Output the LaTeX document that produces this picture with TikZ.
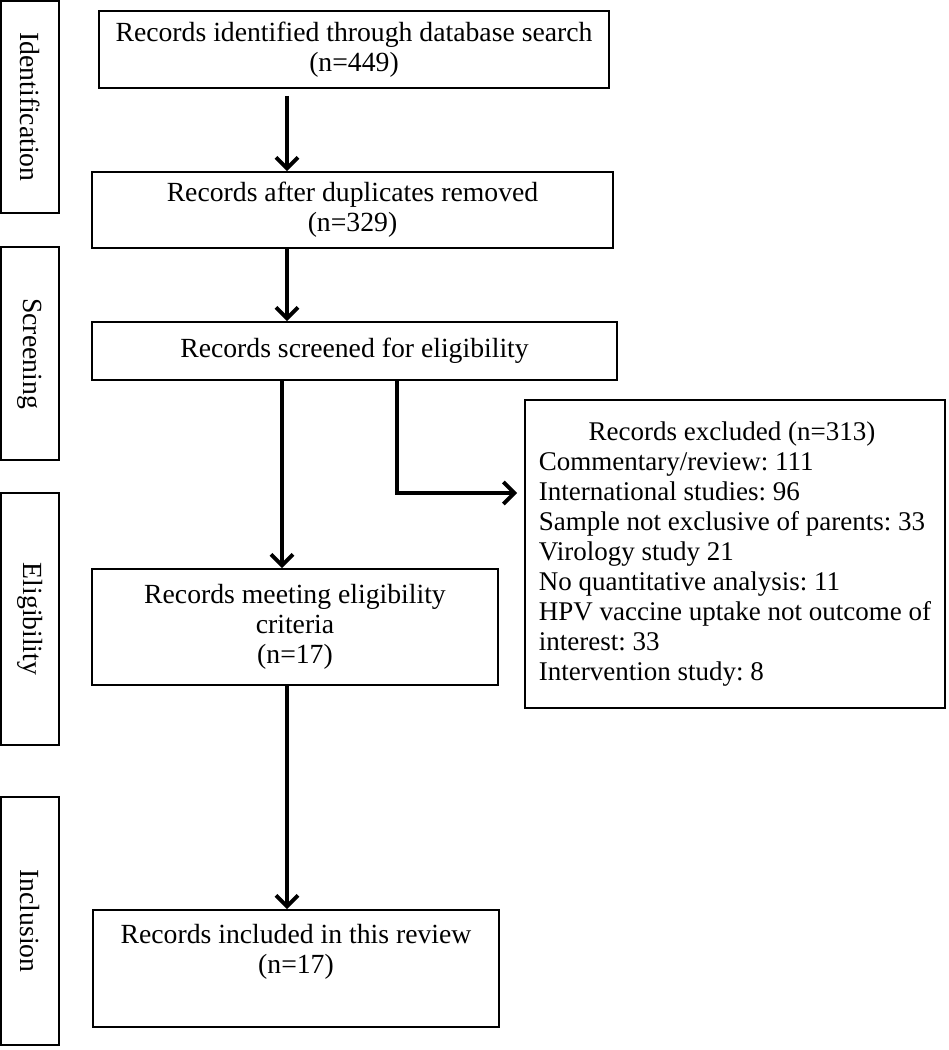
\documentclass[tikz,border=0pt]{standalone}
\usepackage{fontspec}
\setmainfont{Liberation Serif}
\usetikzlibrary{arrows.meta}
\begin{document}
\frenchspacing
\begin{tikzpicture}[x=1pt,y=-1pt,
  every node/.style={font=\fontsize{27.7}{30}\selectfont},
  box/.style={draw=black, line width=1.6pt, rectangle, inner sep=0pt, align=center},
  phase/.style={draw=black, line width=1.6pt, rectangle, inner sep=0pt, rotate=-90, minimum height=58pt},
  arr/.style={line width=4.5pt, -{Straight Barb[length=11pt,width=22pt,line width=4pt]}}
]
\useasboundingbox (0,0) rectangle (949,1050);
% phase labels
\node[phase, minimum width=212pt] (pid) at (30,107) {Identification};
\node[phase, minimum width=213pt] (psc) at (30,353.5) {Screening};
\node[phase, minimum width=252pt] (pel) at (30,619) {Eligibility};
\node[phase, minimum width=248pt] (pin) at (30,921) {Inclusion};
% main boxes
\node[box, minimum width=510pt, minimum height=77pt] (b1) at (354,49.5)
  {Records identified through database search\\(n=449)};
\node[box, minimum width=521pt, minimum height=76pt] (b2) at (352.5,210)
  {Records after duplicates removed\\(n=329)};
\node[box, minimum width=525pt, minimum height=58pt] (b3) at (354.5,351)
  {Records screened for eligibility};
\node[box, minimum width=406pt, minimum height=116pt] (b4) at (295,627)
  {Records meeting eligibility\\criteria\\(n=17)};
\node[box, minimum width=406pt, minimum height=117pt] (b5) at (296,968.5)
  {Records included in this review\\(n=17)\\\strut};
\node[box, align=left, minimum width=420pt, minimum height=308pt,
      font=\fontsize{27}{30}\selectfont] (ex) at (735,554)
  {\makebox[386pt][c]{Records excluded (n=313)}\\
   Commentary/review: 111\\
   International studies: 96\\
   Sample not exclusive of parents: 33\\
   Virology study 21\\
   No quantitative analysis: 11\\
   HPV vaccine uptake not outcome of\\
   interest: 33\\
   Intervention study: 8};
% connector x positions
\coordinate (xa) at (287,0);
\coordinate (xb) at (282,0);
\coordinate (xc) at (397,0);
\coordinate (yh) at (0,493);
% connectors
\draw[arr, shorten <=7pt] (b1.south -| xa) -- (b2.north -| xa);
\draw[arr] (b2.south -| xa) -- (b3.north -| xa);
\draw[arr] (b3.south -| xb) -- (b4.north -| xb);
\draw[arr, shorten >=7pt] (b3.south -| xc) |- (ex.west |- yh);
\draw[arr] (b4.south -| xa) -- (b5.north -| xa);
\end{tikzpicture}
\end{document}
